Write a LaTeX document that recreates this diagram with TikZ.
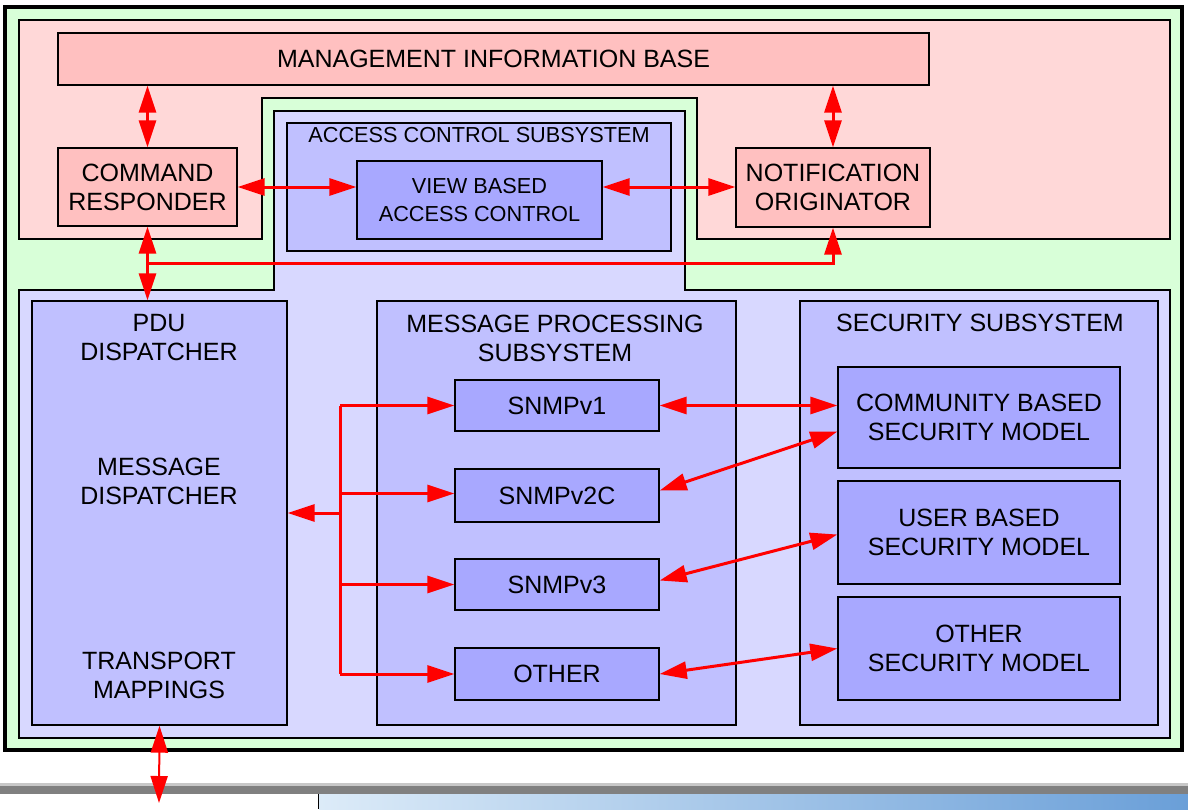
\documentclass[tikz,border=0pt]{standalone}
\usepackage{fontspec}
\setmainfont{Liberation Sans}
\usetikzlibrary{arrows.meta}
\definecolor{outgreen}{HTML}{D8FFD8}
\definecolor{pinkbg}{HTML}{FFD8D8}
\definecolor{pinkbox}{HTML}{FFC0C0}
\definecolor{lavbg}{HTML}{D8D8FF}
\definecolor{subbox}{HTML}{C0C0FF}
\definecolor{innbox}{HTML}{A8A8FF}
\definecolor{barg}{HTML}{808080}
\definecolor{barl}{HTML}{C8C8C8}
\definecolor{gradl}{HTML}{DCEBF8}
\definecolor{gradr}{HTML}{6A9FD8}
\begin{document}
\begin{tikzpicture}[x=1pt,y=-1pt,
  box/.style={draw=black, line width=1.4pt, align=center, inner sep=0pt, font=\fontsize{25}{29}\selectfont},
  pbox/.style={box, fill=pinkbox},
  sbox/.style={box, fill=subbox},
  ibox/.style={box, fill=innbox},
  lbl/.style={align=center, inner sep=0pt, font=\fontsize{25}{29}\selectfont},
  tip/.tip={Triangle[length=27pt,width=17pt]},
  arr/.style={draw=red, line width=3pt, tip-tip},
  arrone/.style={draw=red, line width=3pt, -tip},
  rline/.style={draw=red, line width=3pt}
]
\useasboundingbox (0,0) rectangle (1188,809);
\fill[white] (0,0) rectangle (1188,809);
% backgrounds
\draw[fill=outgreen, line width=3.5pt] (5,7) rectangle (1182,750);
\draw[fill=pinkbg, line width=1.6pt] (19,20) -- (1170,20) -- (1170,239) -- (697,239) -- (697,98) -- (262,98) -- (262,239) -- (19,239) -- cycle;
\draw[fill=lavbg, line width=1.6pt] (19,290) -- (274,290) -- (274,111) -- (685,111) -- (685,290) -- (1170,290) -- (1170,738) -- (19,738) -- cycle;
% bottom strip
\fill[barl] (0,783) rectangle (1188,786);
\fill[barg] (0,786) rectangle (1188,794);
\shade[left color=gradl, right color=gradr] (319,794) rectangle (1188,809);
\draw[line width=1pt] (318.5,794) -- (318.5,809);
% nodes
\node[pbox, minimum width=871pt, minimum height=52pt] (mib) at (493.5,59) {MANAGEMENT INFORMATION BASE};
\node[pbox, minimum width=179pt, minimum height=78pt] (cr) at (147.5,187) {COMMAND\\RESPONDER};
\node[pbox, minimum width=194pt, minimum height=79pt] (no) at (833,187.5) {NOTIFICATION\\ORIGINATOR};
\node[sbox, minimum width=384pt, minimum height=128pt] (acs) at (479,187) {};
\node[lbl, font=\fontsize{21.7}{28}\selectfont] (acsl) at (479,135) {ACCESS CONTROL SUBSYSTEM};
\node[ibox, minimum width=245pt, minimum height=78pt, font=\fontsize{21.7}{28}\selectfont] (vbac) at (479.5,200) {VIEW BASED\\ACCESS CONTROL};
\node[sbox, minimum width=255pt, minimum height=424pt] (pdu) at (159.5,513) {};
\node[lbl] (pdul) at (159,338) {PDU\\DISPATCHER};
\node[lbl] (mdl) at (159,481) {MESSAGE\\DISPATCHER};
\node[lbl] (tml) at (159,675) {TRANSPORT\\MAPPINGS};
\node[sbox, minimum width=359pt, minimum height=424pt] (mps) at (556.5,513) {};
\node[lbl] (mpsl) at (555,338) {MESSAGE PROCESSING\\SUBSYSTEM};
\node[sbox, minimum width=358pt, minimum height=424pt] (sec) at (979,513) {};
\node[lbl] (secl) at (980,323) {SECURITY SUBSYSTEM};
\node[ibox, minimum width=204pt, minimum height=51pt] (v1) at (557,405.5) {SNMPv1};
\node[ibox, minimum width=204pt, minimum height=53pt] (v2c) at (557,495.5) {SNMPv2C};
\node[ibox, minimum width=204pt, minimum height=51pt] (v3) at (557,584.5) {SNMPv3};
\node[ibox, minimum width=204pt, minimum height=52pt] (oth) at (557,674) {OTHER};
\node[ibox, minimum width=282pt, minimum height=101pt] (csm) at (979,417.5) {COMMUNITY BASED\\SECURITY MODEL};
\node[ibox, minimum width=282pt, minimum height=103pt] (usm) at (979,532.5) {USER BASED\\SECURITY MODEL};
\node[ibox, minimum width=282pt, minimum height=103pt] (osm) at (979,648.5) {OTHER\\SECURITY MODEL};
% connectors
\draw[arr] (cr.north |- mib.south) -- (cr.north);
\draw[arr] (no.north |- mib.south) -- (no.north);
\draw[arr] (cr.east) -- (cr.east -| vbac.west);
\draw[arr] (vbac.east |- cr.east) -- (no.west |- cr.east);
\draw[arr] (cr.south) -- (cr.south |- pdu.north);
\coordinate (j1) at (147.5,263);
\draw[arrone] (j1) -| (no.south);
\coordinate (br) at (340,513);
\draw[arrone] (br) -- (pdu.east |- br);
\draw[rline] (br |- v1.west) -- (br |- oth.west);
\draw[arrone] (br |- v1.west) -- (v1.west);
\draw[arrone] ([yshift=2pt]br |- v2c.west) -- ([yshift=2pt]v2c.west);
\draw[arrone] (br |- v3.west) -- (v3.west);
\draw[arrone] (br |- oth.west) -- (oth.west);
\draw[arr] (v1.east) -- (v1.east -| csm.west);
\draw[arr] ([yshift=5pt]v2c.east) -- ([yshift=-14pt]csm.west);
\draw[arr] ([yshift=4pt]v3.east) -- ([yshift=-2pt]usm.west);
\draw[arr] (oth.east) -- (osm.west);
\coordinate (bot) at (159,803);
\draw[draw=red, line width=2pt, tip-tip] (pdu.south) -- (bot);
\end{tikzpicture}
\end{document}
